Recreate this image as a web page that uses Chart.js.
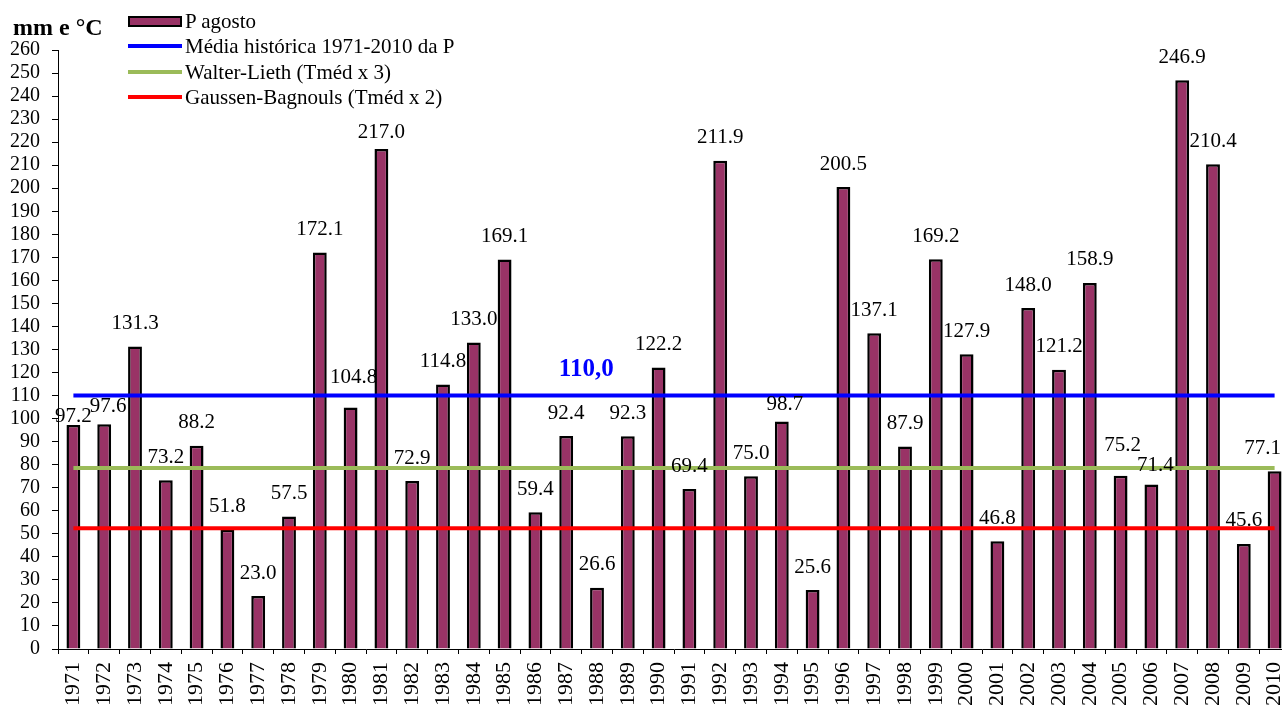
<!DOCTYPE html>
<html>
<head>
<meta charset="utf-8">
<script src="https://cdn.jsdelivr.net/npm/chart.js@4.4.1/dist/chart.umd.min.js"></script>
<style>
  html, body { margin: 0; padding: 0; background: #fff; overflow: hidden; }
  #wrap { position: relative; width: 1290px; height: 709px; font-family: "Liberation Serif", "Times New Roman", serif; color: #000; }
  #unit { position: absolute; left: 13px; top: 15px; font-weight: bold; font-size: 24px; line-height: 1; }
  .leg { position: absolute; left: 128px; height: 24px; display: flex; align-items: center; font-size: 21px; white-space: nowrap; }
  .sw { display: inline-block; width: 54px; margin-right: 3px; }
  .sw.bar { width: 50px; height: 7px; border: 2px solid #000; background: #993366; margin-right: 3px; }
  .sw.line { height: 4px; }
</style>
</head>
<body>
<div id="wrap">
  <canvas id="chart" width="1290" height="709"></canvas>
  <div id="unit">mm e °C</div>
  <div class="leg" style="top:9px"><span class="sw bar"></span>P agosto</div>
  <div class="leg" style="top:34px"><span class="sw line" style="background:#0000ff"></span>Média histórica 1971-2010 da P</div>
  <div class="leg" style="top:60px"><span class="sw line" style="background:#9bbb59"></span>Walter-Lieth (Tméd x 3)</div>
  <div class="leg" style="top:85px"><span class="sw line" style="background:#ff0000"></span>Gaussen-Bagnouls (Tméd x 2)</div>
</div>
<script>
const years = ['1971','1972','1973','1974','1975','1976','1977','1978','1979','1980',
  '1981','1982','1983','1984','1985','1986','1987','1988','1989','1990',
  '1991','1992','1993','1994','1995','1996','1997','1998','1999','2000',
  '2001','2002','2003','2004','2005','2006','2007','2008','2009','2010'];
const pAgosto = [97.2, 97.6, 131.3, 73.2, 88.2, 51.8, 23.0, 57.5, 172.1, 104.8,
  217.0, 72.9, 114.8, 133.0, 169.1, 59.4, 92.4, 26.6, 92.3, 122.2,
  69.4, 211.9, 75.0, 98.7, 25.6, 200.5, 137.1, 87.9, 169.2, 127.9,
  46.8, 148.0, 121.2, 158.9, 75.2, 71.4, 246.9, 210.4, 45.6, 77.1];
const mediaP = 110.0;
const walterLieth = 78.6;
const gaussen = 52.4;
const yTicksMax = 260;

// manual nudges of a few value labels (px), like the original
const labelNudge = {
  '1971': [0, 14], '1972': [4, 5], '1980': [3, -7], '1981': [0, 6],
  '1994': [3, 6], '2005': [2, -7], '2006': [4, 4], '2010': [-12, 0]
};

const serif = '"Liberation Serif", "Times New Roman", serif';

function flatLine(v) {
  return [{ x: years[0], y: v }, { x: years[years.length - 1], y: v }];
}

const valueLabels = {
  id: 'valueLabels',
  afterDatasetsDraw(chart) {
    const ctx = chart.ctx;
    const meta = chart.getDatasetMeta(0);
    ctx.save();
    ctx.font = '21px ' + serif;
    ctx.fillStyle = '#000';
    ctx.textAlign = 'center';
    ctx.textBaseline = 'middle';
    meta.data.forEach((bar, i) => {
      const n = labelNudge[years[i]] || [0, 0];
      ctx.fillText(pAgosto[i].toFixed(1), bar.x + n[0], bar.y - 23 + n[1]);
    });
    // mean value label
    const xs = chart.scales.x, ys = chart.scales.y;
    ctx.font = 'bold 25px ' + serif;
    ctx.fillStyle = '#0000ff';
    ctx.fillText(mediaP.toFixed(1).replace('.', ','), xs.getPixelForValue(16.65), ys.getPixelForValue(mediaP) - 26);
    ctx.restore();
  }
};

new Chart(document.getElementById('chart').getContext('2d'), {
  type: 'bar',
  data: {
    labels: years,
    datasets: [
      {
        label: 'P agosto',
        data: pAgosto,
        backgroundColor: '#993366',
        borderColor: '#000',
        borderWidth: 2.5,
        borderSkipped: 'bottom',
        categoryPercentage: 1,
        barPercentage: 0.45,
        order: 1
      },
      { type: 'line', label: 'Média histórica 1971-2010 da P', data: flatLine(mediaP), borderColor: '#0000ff', borderWidth: 4, pointRadius: 0, order: 0 },
      { type: 'line', label: 'Walter-Lieth (Tméd x 3)', data: flatLine(walterLieth), borderColor: '#9bbb59', borderWidth: 4, pointRadius: 0, order: 0 },
      { type: 'line', label: 'Gaussen-Bagnouls (Tméd x 2)', data: flatLine(gaussen), borderColor: '#ff0000', borderWidth: 4, pointRadius: 0, order: 0 }
    ]
  },
  options: {
    responsive: false,
    animation: false,
    devicePixelRatio: 1,
    layout: { padding: { top: 50, left: 0, right: 0, bottom: 0 } },
    plugins: {
      legend: { display: false },
      tooltip: { enabled: false }
    },
    scales: {
      x: {
        offset: true,
        grid: { offset: true, drawOnChartArea: false, tickLength: 5, color: '#000' },
        border: { color: '#000', width: 1 },
        ticks: { autoSkip: false, minRotation: 90, maxRotation: 90, padding: 8, color: '#000', font: { family: serif, size: 22 } },
        afterFit: s => { s.height = 60; s.paddingLeft = 0; s.paddingRight = 0; }
      },
      y: {
        min: 0,
        max: yTicksMax,
        grid: { drawOnChartArea: false, tickLength: 6, color: '#000' },
        border: { color: '#000', width: 1 },
        ticks: { stepSize: 10, autoSkip: false, padding: 12, color: '#000', font: { family: serif, size: 20 } },
        afterFit: s => { s.width = 58; }
      }
    }
  },
  plugins: [valueLabels]
});
</script>
</body>
</html>
